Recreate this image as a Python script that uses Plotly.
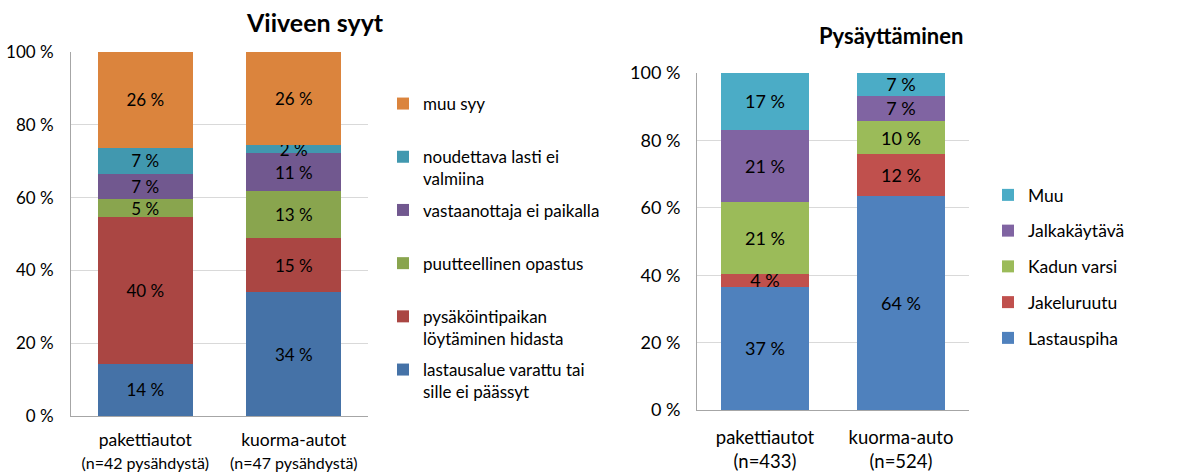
import plotly.graph_objects as go

FONT = "Lato"

# ---- Left chart: Viiveen syyt ----
left_categories = ["pakettiautot<br><span style='font-size:16px'>(n=42 pysähdystä)</span>",
                   "kuorma-autot<br><span style='font-size:16px'>(n=47 pysähdystä)</span>"]
left_series = [
    "lastausalue varattu tai<br>sille ei päässyt",
    "pysäköintipaikan<br>löytäminen hidasta",
    "puutteellinen opastus<br>\u00a0",
    "vastaanottaja ei paikalla<br>\u00a0",
    "noudettava lasti ei<br>valmiina",
    "muu syy<br>\u00a0",
]
lastausalue = [14.3, 34.0]
pysakointi = [40.4, 14.9]
opastus = [4.8, 12.8]
vastaanottaja = [7.1, 10.6]
noudettava = [7.1, 2.1]
muu_syy = [26.3, 25.6]
left_values = [lastausalue, pysakointi, opastus, vastaanottaja, noudettava, muu_syy]
left_colors = ["#4572A7", "#AA4643", "#89A54E", "#71588F", "#4198AF", "#DB843D"]

# ---- Right chart: Pysäyttäminen ----
right_categories = ["pakettiautot<br>(n=433)", "kuorma-auto<br>(n=524)"]
right_series = ["Lastauspiha", "Jakeluruutu", "Kadun varsi", "Jalkakäytävä", "Muu"]
lastauspiha = [36.6, 63.6]
jakeluruutu = [3.8, 12.3]
kadun_varsi = [21.4, 9.9]
jalkakaytava = [21.4, 7.4]
muu = [16.8, 6.8]
right_values = [lastauspiha, jakeluruutu, kadun_varsi, jalkakaytava, muu]
right_colors = ["#4F81BD", "#C0504D", "#9BBB59", "#8064A2", "#4BACC6"]

tick_vals = [0, 20, 40, 60, 80, 100]
tick_text = ["0 %", "20 %", "40 %", "60 %", "80 %", "100 %"]

fig = go.Figure()

n_left = len(left_series)
for i, (name, vals, col) in enumerate(zip(left_series, left_values, left_colors)):
    fig.add_trace(go.Bar(
        x=left_categories, y=vals, name=name, legendgroup="L" + name,
        legendrank=1000 - i,
        marker=dict(color=col, line=dict(width=0)),
        text=vals, texttemplate="%{y:.0f} %", textposition="inside",
        insidetextanchor="middle", textangle=0, constraintext="none",
        textfont=dict(family=FONT, size=17, color="black"),
        xaxis="x", yaxis="y", legend="legend", hoverinfo="skip",
    ))

for i, (name, vals, col) in enumerate(zip(right_series, right_values, right_colors)):
    fig.add_trace(go.Bar(
        x=right_categories, y=vals, name=name, legendgroup="R" + name,
        legendrank=1000 - i,
        marker=dict(color=col, line=dict(width=0)),
        text=vals, texttemplate="%{y:.0f} %", textposition="inside",
        insidetextanchor="middle", textangle=0, constraintext="none",
        textfont=dict(family=FONT, size=18, color="black"),
        xaxis="x2", yaxis="y2", legend="legend2", hoverinfo="skip", width=0.645,
    ))

W, H = 1181, 476

def xd(a, b):
    return [a / W, b / W]

def yd(top, bottom):
    return [1 - bottom / H, 1 - top / H]

common_y = dict(range=[0, 100], tickmode="array", tickvals=tick_vals, ticktext=tick_text,
                showgrid=True, gridcolor="#D9D9D9", gridwidth=1, showline=True,
                linecolor="#A6A6A6", linewidth=1, zeroline=False, ticks="",
                automargin=False, fixedrange=True)
common_x = dict(showline=True, linecolor="#A6A6A6", linewidth=1, ticks="",
                automargin=False, fixedrange=True, range=[-0.5, 1.5])

fig.update_layout(
    width=W, height=H,
    margin=dict(l=0, r=0, t=0, b=0),
    paper_bgcolor="white", plot_bgcolor="white",
    barmode="stack",
    bargap=0.36,
    font=dict(family=FONT, color="black"),
    xaxis=dict(domain=xd(71, 368), anchor="y", tickfont=dict(size=17.5, family=FONT),
               ticklabelstandoff=8, **common_x),
    yaxis=dict(domain=yd(52, 416), anchor="x", tickfont=dict(size=17, family=FONT),
               ticklabelstandoff=13, **common_y),
    xaxis2=dict(domain=xd(697, 969), anchor="y2", tickfont=dict(size=18.5, family=FONT),
                ticklabelstandoff=11, **common_x),
    yaxis2=dict(domain=yd(73, 410), anchor="x2", tickfont=dict(size=18, family=FONT),
                ticklabelstandoff=12, **common_y),
    legend=dict(x=383 / W, y=1 - 86 / H, xanchor="left", yanchor="top",
                traceorder="grouped", valign="top", tracegroupgap=6,
                font=dict(family=FONT, size=17), bgcolor="rgba(0,0,0,0)",
                itemwidth=30),
    legend2=dict(x=988 / W, y=1 - 177 / H, xanchor="left", yanchor="top",
                 traceorder="grouped", valign="middle", tracegroupgap=10,
                 font=dict(family=FONT, size=17.5), bgcolor="rgba(0,0,0,0)",
                 itemwidth=30),
    annotations=[
        dict(text="<b>Viiveen syyt</b>", x=315 / W, y=1 - 22 / H, xref="paper", yref="paper",
             showarrow=False, font=dict(family=FONT, size=25), xanchor="center", yanchor="middle"),
        dict(text="<b>Pysäyttäminen</b>", x=891 / W, y=1 - 36 / H, xref="paper", yref="paper",
             showarrow=False, font=dict(family=FONT, size=22), xanchor="center", yanchor="middle"),
    ],
)

fig.write_html("out.html", config={"displayModeBar": False},
               post_script="document.body.style.margin='0';")
